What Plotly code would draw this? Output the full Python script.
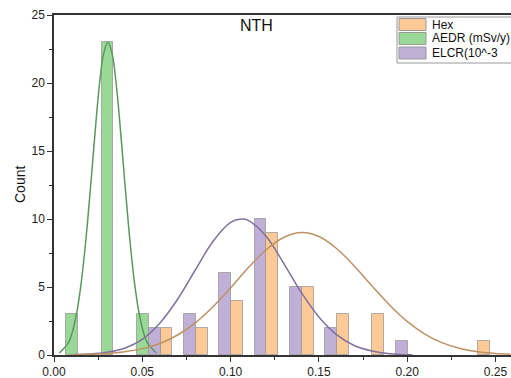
import plotly.graph_objects as go

# ---------------- data ----------------
bin_centers = [0.017, 0.037, 0.057, 0.077, 0.097, 0.117, 0.137, 0.157, 0.177, 0.197, 0.217, 0.237]
aedr_counts = [3, 23, 3, 0, 0, 0, 0, 0, 0, 0, 0, 0]
elcr_counts = [0, 0, 2, 3, 6, 10, 5, 2, 0, 1, 0, 0]
hex_counts = [0, 0, 2, 2, 4, 9, 5, 3, 3, 0, 0, 1]

aedr_curve_x = [0.003, 0.008, 0.0105, 0.013, 0.0155, 0.018, 0.020, 0.022, 0.024, 0.026, 0.028, 0.0305,
                0.033, 0.035, 0.037, 0.039, 0.041, 0.043, 0.0455, 0.048, 0.0505, 0.053, 0.058]
aedr_curve_y = [0.15, 0.87, 1.74, 3.2, 5.4, 8.4, 11.3, 14.4, 17.5, 20.2, 22.1, 23.0,
                22.1, 20.2, 17.5, 14.4, 11.3, 8.4, 5.4, 3.2, 1.74, 0.87, 0.15]

elcr_curve_x = [0.010, 0.020, 0.030, 0.040, 0.050, 0.060, 0.070, 0.080, 0.090, 0.100, 0.106,
                0.110, 0.120, 0.130, 0.140, 0.150, 0.160, 0.170, 0.180, 0.190, 0.203]
elcr_curve_y = [0.02, 0.07, 0.2, 0.5, 1.15, 2.35, 4.1, 6.25, 8.35, 9.75, 10.0,
                9.9, 8.75, 6.75, 4.6, 2.8, 1.5, 0.7, 0.3, 0.1, 0.02]

hex_curve_x = [0.010, 0.020, 0.030, 0.040, 0.050, 0.060, 0.070, 0.080, 0.090, 0.100, 0.110, 0.120,
               0.130, 0.1405, 0.150, 0.160, 0.170, 0.180, 0.190, 0.200, 0.210, 0.220, 0.230,
               0.240, 0.250, 0.2585]
hex_curve_y = [0.02, 0.05, 0.11, 0.24, 0.47, 0.85, 1.47, 2.36, 3.55, 4.94, 6.41, 7.72,
               8.64, 9.0, 8.71, 7.83, 6.55, 5.09, 3.68, 2.47, 1.54, 0.89, 0.48,
               0.24, 0.11, 0.06]

series_names = ["Hex", "AEDR (mSv/y)", "ELCR(10^-3"]
x_ticks = [0.00, 0.05, 0.10, 0.15, 0.20, 0.25]
y_ticks = [0, 5, 10, 15, 20, 25]

# ---------------- styles ----------------
FONT = "Arial, Liberation Sans, sans-serif"
C_HEX = "rgb(253,201,150)"
C_AEDR = "rgb(154,216,152)"
C_ELCR = "rgb(192,176,216)"
L_HEX = "rgb(190,145,100)"
L_AEDR = "rgb(92,152,92)"
L_ELCR = "rgb(128,112,158)"
EDGE = "rgba(150,150,150,0.75)"

W, H = 511, 378
ML, MR, MT, MB = 54, 0, 15, 23
PW, PH = W - ML - MR, H - MT - MB


def px(xp):
    return (xp - ML) / PW


def py(yp):
    return (H - MB - yp) / PH


def nz(xs, ys):
    pairs = [(a, b) for a, b in zip(xs, ys) if b > 0]
    return [p[0] for p in pairs], [p[1] for p in pairs]


fig = go.Figure()

# grouped bars: AEDR (left), ELCR (middle), Hex (right)
for counts, fill in [(aedr_counts, C_AEDR), (elcr_counts, C_ELCR), (hex_counts, C_HEX)]:
    bx, by = nz(bin_centers, counts)
    fig.add_trace(go.Bar(x=bx, y=by, marker=dict(color=fill, line=dict(color=EDGE, width=1)),
                         showlegend=False))

for cx, cy, col in [(aedr_curve_x, aedr_curve_y, L_AEDR), (elcr_curve_x, elcr_curve_y, L_ELCR),
                    (hex_curve_x, hex_curve_y, L_HEX)]:
    fig.add_trace(go.Scatter(x=cx, y=cy, mode="lines", line=dict(color=col, width=1.5, shape="spline"),
                             showlegend=False, hoverinfo="skip"))

fig.update_layout(
    width=W, height=H,
    margin=dict(l=ML, r=MR, t=MT, b=MB, autoexpand=False),
    paper_bgcolor="white", plot_bgcolor="white",
    barmode="group", bargap=0, bargroupgap=0,
    font=dict(family=FONT, size=12, color="#222"),
    showlegend=False,
)

fig.update_xaxes(
    range=[0, 0.2588], tickvals=x_ticks, ticktext=[f"{v:.2f}" for v in x_ticks],
    showgrid=False, zeroline=False,
    showline=True, linecolor="#333", linewidth=1.5, mirror=True,
    ticks="outside", ticklen=5, tickwidth=1, tickcolor="#333",
    minor=dict(dtick=0.025, tick0=0, ticks="outside", ticklen=3, tickcolor="#333"),
    tickfont=dict(size=12, color="#222", family=FONT),
)
fig.update_yaxes(
    range=[0, 25], tickvals=y_ticks,
    showgrid=False, zeroline=False,
    showline=True, linecolor="#333", linewidth=1.5,
    ticks="outside", ticklen=5, tickwidth=1, tickcolor="#333",
    minor=dict(dtick=2.5, tick0=0, ticks="outside", ticklen=3, tickcolor="#333"),
    tickfont=dict(size=12, color="#222", family=FONT),
)

annotations = [
    dict(text="NTH", x=px(256), y=py(25), xref="paper", yref="paper", showarrow=False,
         font=dict(size=16, color="#111", family=FONT), xanchor="center", yanchor="middle"),
    dict(text="Count", x=px(20), y=py(185), xref="paper", yref="paper", showarrow=False,
         textangle=-90, font=dict(size=14, color="#111", family=FONT), xanchor="center", yanchor="middle"),
]

shapes = [
    dict(type="rect", xref="paper", yref="paper", x0=px(397), x1=px(530), y0=py(63), y1=py(17),
         line=dict(color="#999", width=1), fillcolor="white", layer="above"),
]
rows = [(series_names[0], C_HEX, 24.5), (series_names[1], C_AEDR, 38.5), (series_names[2], C_ELCR, 53)]
for name, col, yc in rows:
    shapes.append(dict(type="rect", xref="paper", yref="paper", x0=px(399), x1=px(426),
                       y0=py(yc + 6), y1=py(yc - 6), line=dict(color="#999", width=1),
                       fillcolor=col, layer="above"))
    annotations.append(dict(text=name, x=px(430), y=py(yc), xref="paper", yref="paper", showarrow=False,
                            xanchor="left", yanchor="middle", font=dict(size=12, color="#111", family=FONT)))

fig.update_layout(shapes=shapes, annotations=annotations)

fig.write_html("out.html", config={"displayModeBar": False},
               post_script="document.body.style.margin='0';document.body.style.overflow='hidden';")
